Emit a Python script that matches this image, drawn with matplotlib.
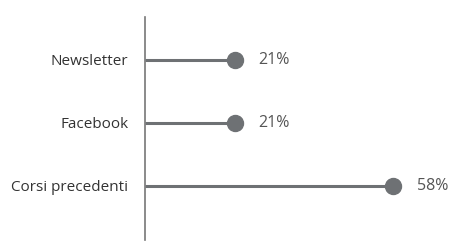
import matplotlib.pyplot as plt

categories = ['Corsi precedenti', 'Facebook', 'Newsletter']
values = [58, 21, 21]
labels = ['58%', '21%', '21%']

plt.rcParams['font.family'] = ['Open Sans', 'DejaVu Sans']

fig = plt.figure(figsize=(4.5, 2.47), dpi=100)
ax = fig.add_axes([0.3222, 0.0283, 0.6778, 0.9028])

pos = list(range(len(categories)))
line_color = '#6e7174'
ax.hlines(pos, 0, values, color=line_color, linewidth=2.2)
ax.plot(values, pos, 'o', color=line_color, markersize=11.5)
for y, v, lab in zip(pos, values, labels):
    ax.annotate(lab, (v, y), xytext=(17, 0), textcoords='offset points',
                va='center', ha='left', fontsize=11.5, color='#555555')

ax.set_xlim(0, 71.3)
ax.set_ylim(-0.857, 2.68)
ax.set_yticks(pos)
ax.set_yticklabels(categories, fontsize=11, color='#333333')
ax.tick_params(axis='y', length=0, pad=12)
ax.set_xticks([])
for side in ['top', 'right', 'bottom']:
    ax.spines[side].set_visible(False)
ax.spines['left'].set_color('#777777')
ax.spines['left'].set_linewidth(1.2)

fig.savefig('out.png', dpi=100)
